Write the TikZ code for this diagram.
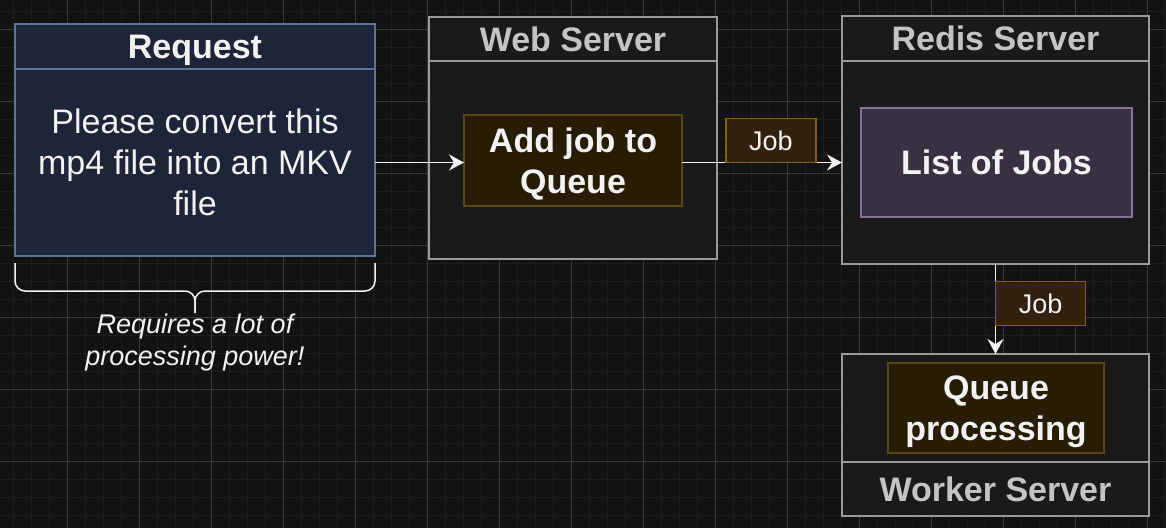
\documentclass[tikz,border=0pt]{standalone}
\usepackage{fontspec}
\setmainfont{Liberation Sans}
\usetikzlibrary{arrows.meta,positioning}
\definecolor{canvas}{HTML}{121212}
\definecolor{minorline}{HTML}{1D1D1D}
\definecolor{majorline}{HTML}{3A3A3A}
\definecolor{reqfill}{HTML}{1E2538}
\definecolor{reqline}{HTML}{5B7399}
\definecolor{srvfill}{HTML}{1A1A1A}
\definecolor{srvline}{HTML}{9A9A9A}
\definecolor{srvtext}{HTML}{C4C4C4}
\definecolor{taskfill}{HTML}{271D04}
\definecolor{taskline}{HTML}{5A4712}
\definecolor{tagfill}{HTML}{33210F}
\definecolor{tagline}{HTML}{875F0A}
\definecolor{listfill}{HTML}{393142}
\definecolor{listline}{HTML}{8B6F9C}
\definecolor{ink}{HTML}{F2F2F2}
\begin{document}
\begin{tikzpicture}[x=1pt,y=1pt,
  box/.style={draw, line width=1.5pt, inner sep=0pt, outer sep=0pt, align=center, text=ink},
  reqbox/.style={box, draw=reqline, fill=reqfill},
  srvbox/.style={box, draw=srvline, fill=srvfill},
  srvtitle/.style={srvbox, text=srvtext, font=\fontsize{34}{41}\selectfont\bfseries},
  taskbox/.style={box, draw=taskline, fill=taskfill, text depth=0pt, font=\fontsize{34}{41}\selectfont\bfseries},
  listbox/.style={box, draw=listline, fill=listfill, font=\fontsize{34}{41}\selectfont\bfseries},
  jobtag/.style={box, draw=tagline, fill=tagfill, minimum width=90, minimum height=44, font=\fontsize{27}{32}\selectfont},
  flow/.style={draw=ink, line width=1.5pt, -{Stealth[length=15pt,width=16pt,inset=5pt]}},
  bracket/.style={draw=ink, line width=1.5pt, rounded corners=10pt},
  note/.style={inner sep=0pt, align=center, text=ink, font=\fontsize{27}{32}\selectfont\itshape}]
  \useasboundingbox (0,0) rectangle (1166,-528);
  \fill[canvas] (0,0) rectangle (1166,-528);
  \foreach \gx in {13.7,31.7,...,1166} \draw[minorline, line width=1.2pt] (\gx,0) -- (\gx,-528);
  \foreach \gy in {-11.3,-29.3,...,-528} \draw[minorline, line width=1.2pt] (0,\gy) -- (1166,\gy);
  \foreach \gx in {67.7,139.7,...,1166} \draw[majorline, line width=0.8pt] (\gx,0) -- (\gx,-528);
  \foreach \gy in {-29.3,-101.3,...,-528} \draw[majorline, line width=0.8pt] (0,\gy) -- (1166,\gy);
  \node[reqbox, minimum width=360, minimum height=45, text depth=0pt, font=\fontsize{34}{41}\selectfont\bfseries] (reqhead) at (195,-46.5) {Request};
  \node[reqbox, minimum width=360, minimum height=187, font=\fontsize{34}{41}\selectfont] (reqbody) at (195,-162.5) {Please convert this\\mp4 file into an MKV\\file};
  \node[srvtitle, minimum width=288, minimum height=44] (webhead) at (573,-39) {Web Server};
  \node[srvbox, minimum width=288, minimum height=198] (webbody) at (573,-160) {};
  \node[taskbox, minimum width=218, minimum height=91] (addjob) at (573,-160.5) {Add job to\\Queue};
  \node[srvtitle, minimum width=307, minimum height=45] (redishead) at (995.5,-38.5) {Redis Server};
  \node[srvbox, minimum width=307, minimum height=203] (redisbody) at (995.5,-162.5) {};
  \node[listbox, minimum width=271, minimum height=109] (joblist) at (996.5,-162.5) {List of Jobs};
  \node[srvbox, minimum width=307, minimum height=108] (workerbody) at (995.5,-408) {};
  \node[srvtitle, minimum width=307, minimum height=54] (workerhead) at (995.5,-489) {Worker Server};
  \node[taskbox, minimum width=216, minimum height=90] (queueproc) at (996,-408) {Queue\\processing};
  \draw[flow] (reqbody.east) -- (reqbody.east -| addjob.west);
  \draw[flow] (addjob.east |- redisbody.west) -- (redisbody.west)
    node[jobtag, pos=0.556, anchor=south] (webtag) {Job};
  \draw[flow] (redisbody.south) -- (workerbody.north)
    node[jobtag, pos=0.44, anchor=west] (workertag) {Job};
  \coordinate (bracemid) at ([yshift=-35pt]reqbody.south);
  \coordinate (bracetip) at ([yshift=-57pt]reqbody.south);
  \draw[bracket] ([yshift=-7pt]reqbody.south west) |- (bracemid) -- (bracetip);
  \draw[bracket] ([yshift=-7pt]reqbody.south east) |- (bracemid) -- (bracetip);
  \node[note, below=1pt of bracetip] (powernote) {Requires a lot of\\processing power!};
\end{tikzpicture}
\end{document}
